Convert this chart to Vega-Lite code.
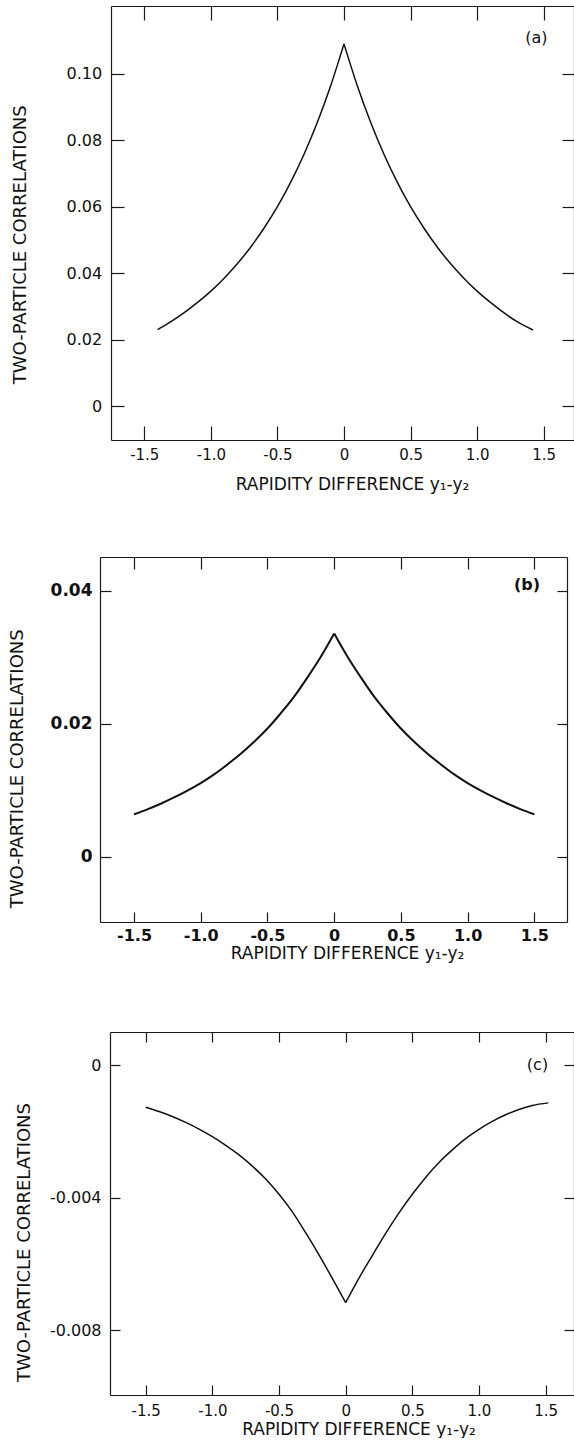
{
  "$schema": "https://vega.github.io/schema/vega-lite/v6.json",
  "background": "white",
  "padding": {"left": 8, "top": 5, "right": 0, "bottom": 0},
  "spacing": 63,
  "vconcat": [
    {
      "width": 474,
      "height": 434,
      "resolve": {"axis": {"x": "independent", "y": "independent"}},
      "layer": [
        {
          "data": {"values": [
            {"dy": -1.40, "corr": 0.0230, "side": "L"},
            {"dy": -1.30, "corr": 0.0254, "side": "L"},
            {"dy": -1.20, "corr": 0.0281, "side": "L"},
            {"dy": -1.10, "corr": 0.0312, "side": "L"},
            {"dy": -1.00, "corr": 0.0346, "side": "L"},
            {"dy": -0.90, "corr": 0.0385, "side": "L"},
            {"dy": -0.80, "corr": 0.0429, "side": "L"},
            {"dy": -0.70, "corr": 0.0479, "side": "L"},
            {"dy": -0.60, "corr": 0.0536, "side": "L"},
            {"dy": -0.50, "corr": 0.0600, "side": "L"},
            {"dy": -0.40, "corr": 0.0674, "side": "L"},
            {"dy": -0.30, "corr": 0.0758, "side": "L"},
            {"dy": -0.20, "corr": 0.0854, "side": "L"},
            {"dy": -0.10, "corr": 0.0964, "side": "L"},
            {"dy": 0.00, "corr": 0.1090, "side": "L"},
            {"dy": 0.00, "corr": 0.1090, "side": "R"},
            {"dy": 0.10, "corr": 0.0964, "side": "R"},
            {"dy": 0.20, "corr": 0.0854, "side": "R"},
            {"dy": 0.30, "corr": 0.0758, "side": "R"},
            {"dy": 0.40, "corr": 0.0674, "side": "R"},
            {"dy": 0.50, "corr": 0.0600, "side": "R"},
            {"dy": 0.60, "corr": 0.0536, "side": "R"},
            {"dy": 0.70, "corr": 0.0479, "side": "R"},
            {"dy": 0.80, "corr": 0.0429, "side": "R"},
            {"dy": 0.90, "corr": 0.0385, "side": "R"},
            {"dy": 1.00, "corr": 0.0346, "side": "R"},
            {"dy": 1.10, "corr": 0.0312, "side": "R"},
            {"dy": 1.20, "corr": 0.0281, "side": "R"},
            {"dy": 1.30, "corr": 0.0254, "side": "R"},
            {"dy": 1.42, "corr": 0.0229, "side": "R"}
          ]},
          "mark": {"type": "line", "color": "#111111", "strokeWidth": 1.5, "interpolate": "monotone"},
          "encoding": {
            "x": {
              "field": "dy", "type": "quantitative",
              "scale": {"domain": [-1.75, 1.7276], "range": [11, 474], "nice": false, "zero": false},
              "axis": {
                "orient": "bottom", "values": [-1.5, -1, -0.5, 0, 0.5, 1, 1.5],
                "tickSize": -14, "labelPadding": 21.1, "labelFontSize": 15,
                "labelExpr": "datum.value == 0 ? '0' : (datum.value < 0 ? '-' : '') + format(abs(datum.value), '.1f')",
                "title": "RAPIDITY DIFFERENCE y₁-y₂", "titleFontSize": 17,
                "titleX": 252, "titleY": 44.7, "titleBaseline": "middle", "titleAlign": "center"
              }
            },
            "y": {
              "field": "corr", "type": "quantitative",
              "scale": {"domain": [-0.0102, 0.1204], "nice": false, "zero": false},
              "axis": {
                "orient": "left", "offset": -11, "values": [0, 0.02, 0.04, 0.06, 0.08, 0.1],
                "tickSize": -13, "labelPadding": 22.3, "labelFontSize": 16,
                "labelExpr": "datum.value == 0 ? '0' : format(datum.value, '.2f')",
                "title": "TWO-PARTICLE CORRELATIONS", "titleFontSize": 18,
                "titleAngle": 270, "titleX": -91, "titleY": 238.3, "titleBaseline": "middle", "titleAlign": "center"
              }
            },
            "detail": {"field": "side", "type": "nominal"}
          }
        },
        {
          "data": {"values": [{"label": "(a)"}]},
          "mark": {"type": "text", "fontSize": 16, "color": "#111111", "align": "center", "baseline": "middle"},
          "encoding": {
            "x": {
              "datum": 1.445, "type": "quantitative",
              "scale": {"domain": [-1.75, 1.7276], "range": [11, 474], "nice": false, "zero": false},
              "axis": {"orient": "top", "values": [-1.5, -1, -0.5, 0, 0.5, 1, 1.5], "tickSize": -14, "labels": false, "title": null}
            },
            "y": {
              "datum": 0.1108, "type": "quantitative",
              "scale": {"domain": [-0.0102, 0.1204], "nice": false, "zero": false},
              "axis": {"orient": "right", "values": [0, 0.02, 0.04, 0.06, 0.08, 0.1], "tickSize": -12, "labels": false, "title": null}
            },
            "text": {"field": "label", "type": "nominal"}
          }
        }
      ]
    },
    {
      "spacing": 69,
      "vconcat": [
        {
          "width": 467,
          "height": 365,
          "resolve": {"axis": {"x": "independent", "y": "independent"}},
          "layer": [
            {
              "data": {"values": [
                {"dy": -1.5, "corr": 0.00641, "side": "L"},
                {"dy": -1.4, "corr": 0.00715, "side": "L"},
                {"dy": -1.3, "corr": 0.00799, "side": "L"},
                {"dy": -1.2, "corr": 0.00893, "side": "L"},
                {"dy": -1.1, "corr": 0.00997, "side": "L"},
                {"dy": -1.0, "corr": 0.0111, "side": "L"},
                {"dy": -0.9, "corr": 0.0124, "side": "L"},
                {"dy": -0.8, "corr": 0.0139, "side": "L"},
                {"dy": -0.7, "corr": 0.0155, "side": "L"},
                {"dy": -0.6, "corr": 0.0173, "side": "L"},
                {"dy": -0.5, "corr": 0.0193, "side": "L"},
                {"dy": -0.4, "corr": 0.0216, "side": "L"},
                {"dy": -0.3, "corr": 0.0241, "side": "L"},
                {"dy": -0.2, "corr": 0.0270, "side": "L"},
                {"dy": -0.1, "corr": 0.0301, "side": "L"},
                {"dy": 0.0, "corr": 0.0336, "side": "L"},
                {"dy": 0.0, "corr": 0.0336, "side": "R"},
                {"dy": 0.1, "corr": 0.0301, "side": "R"},
                {"dy": 0.2, "corr": 0.0270, "side": "R"},
                {"dy": 0.3, "corr": 0.0241, "side": "R"},
                {"dy": 0.4, "corr": 0.0216, "side": "R"},
                {"dy": 0.5, "corr": 0.0193, "side": "R"},
                {"dy": 0.6, "corr": 0.0173, "side": "R"},
                {"dy": 0.7, "corr": 0.0155, "side": "R"},
                {"dy": 0.8, "corr": 0.0139, "side": "R"},
                {"dy": 0.9, "corr": 0.0124, "side": "R"},
                {"dy": 1.0, "corr": 0.0111, "side": "R"},
                {"dy": 1.1, "corr": 0.00997, "side": "R"},
                {"dy": 1.2, "corr": 0.00893, "side": "R"},
                {"dy": 1.3, "corr": 0.00799, "side": "R"},
                {"dy": 1.4, "corr": 0.00715, "side": "R"},
                {"dy": 1.5, "corr": 0.00641, "side": "R"}
              ]},
              "mark": {"type": "line", "color": "#111111", "strokeWidth": 2, "interpolate": "monotone"},
              "encoding": {
                "x": {
                  "field": "dy", "type": "quantitative",
                  "scale": {"domain": [-1.755, 1.745], "nice": false, "zero": false},
                  "axis": {
                    "orient": "bottom", "values": [-1.5, -1, -0.5, 0, 0.5, 1, 1.5],
                    "tickSize": -10, "labelPadding": 15.7, "labelFontSize": 16, "labelFontWeight": "bold",
                    "labelExpr": "datum.value == 0 ? '0' : (datum.value < 0 ? '-' : '') + format(abs(datum.value), '.1f')",
                    "title": "RAPIDITY DIFFERENCE y₁-y₂", "titleFontSize": 17,
                    "titleX": 247, "titleY": 31.8, "titleBaseline": "middle", "titleAlign": "center"
                  }
                },
                "y": {
                  "field": "corr", "type": "quantitative",
                  "scale": {"domain": [-0.0098, 0.0451], "nice": false, "zero": false},
                  "axis": {
                    "orient": "left", "values": [0, 0.02, 0.04],
                    "tickSize": -11, "labelPadding": 19, "labelFontSize": 17, "labelFontWeight": "bold",
                    "labelExpr": "datum.value == 0 ? '0' : format(datum.value, '.2f')",
                    "title": "TWO-PARTICLE CORRELATIONS", "titleFontSize": 18,
                    "titleAngle": 270, "titleX": -83, "titleY": 211.3, "titleBaseline": "middle", "titleAlign": "center"
                  }
                },
                "detail": {"field": "side", "type": "nominal"}
              }
            },
            {
              "data": {"values": [{"label": "(b)"}]},
              "mark": {"type": "text", "fontSize": 16, "fontWeight": "bold", "color": "#111111", "align": "center", "baseline": "middle"},
              "encoding": {
                "x": {
                  "datum": 1.445, "type": "quantitative",
                  "scale": {"domain": [-1.755, 1.745], "nice": false, "zero": false},
                  "axis": {"orient": "top", "values": [-1.5, -1, -0.5, 0, 0.5, 1, 1.5], "tickSize": -12, "labels": false, "title": null}
                },
                "y": {
                  "datum": 0.0409, "type": "quantitative",
                  "scale": {"domain": [-0.0098, 0.0451], "nice": false, "zero": false},
                  "axis": {"orient": "right", "values": [0, 0.02, 0.04], "tickSize": -10, "labels": false, "title": null}
                },
                "text": {"field": "label", "type": "nominal"}
              }
            }
          ]
        },
        {
          "width": 474,
          "height": 363,
          "resolve": {"axis": {"x": "independent", "y": "independent"}},
          "layer": [
            {
              "data": {"values": [
                {"dy": -1.5, "corr": -0.00127, "side": "L"},
                {"dy": -1.4, "corr": -0.00140, "side": "L"},
                {"dy": -1.3, "corr": -0.00155, "side": "L"},
                {"dy": -1.2, "corr": -0.00173, "side": "L"},
                {"dy": -1.1, "corr": -0.00193, "side": "L"},
                {"dy": -1.0, "corr": -0.00216, "side": "L"},
                {"dy": -0.9, "corr": -0.00242, "side": "L"},
                {"dy": -0.8, "corr": -0.00271, "side": "L"},
                {"dy": -0.7, "corr": -0.00305, "side": "L"},
                {"dy": -0.6, "corr": -0.00344, "side": "L"},
                {"dy": -0.5, "corr": -0.00390, "side": "L"},
                {"dy": -0.4, "corr": -0.00443, "side": "L"},
                {"dy": -0.3, "corr": -0.00506, "side": "L"},
                {"dy": -0.2, "corr": -0.00573, "side": "L"},
                {"dy": -0.1, "corr": -0.00644, "side": "L"},
                {"dy": 0.0, "corr": -0.00717, "side": "L"},
                {"dy": 0.0, "corr": -0.00717, "side": "R"},
                {"dy": 0.1, "corr": -0.00643, "side": "R"},
                {"dy": 0.2, "corr": -0.00575, "side": "R"},
                {"dy": 0.3, "corr": -0.00508, "side": "R"},
                {"dy": 0.4, "corr": -0.00446, "side": "R"},
                {"dy": 0.5, "corr": -0.00390, "side": "R"},
                {"dy": 0.6, "corr": -0.00339, "side": "R"},
                {"dy": 0.7, "corr": -0.00294, "side": "R"},
                {"dy": 0.8, "corr": -0.00256, "side": "R"},
                {"dy": 0.9, "corr": -0.00222, "side": "R"},
                {"dy": 1.0, "corr": -0.00194, "side": "R"},
                {"dy": 1.1, "corr": -0.00170, "side": "R"},
                {"dy": 1.2, "corr": -0.00150, "side": "R"},
                {"dy": 1.3, "corr": -0.00134, "side": "R"},
                {"dy": 1.4, "corr": -0.00122, "side": "R"},
                {"dy": 1.52, "corr": -0.00114, "side": "R"}
              ]},
              "mark": {"type": "line", "color": "#111111", "strokeWidth": 1.5, "interpolate": "monotone"},
              "encoding": {
                "x": {
                  "field": "dy", "type": "quantitative",
                  "scale": {"domain": [-1.768, 1.713], "range": [10, 474], "nice": false, "zero": false},
                  "axis": {
                    "orient": "bottom", "values": [-1.5, -1, -0.5, 0, 0.5, 1, 1.5],
                    "tickSize": -10, "labelPadding": 18, "labelFontSize": 15,
                    "labelExpr": "datum.value == 0 ? '0' : (datum.value < 0 ? '-' : '') + format(abs(datum.value), '.1f')",
                    "title": "RAPIDITY DIFFERENCE y₁-y₂", "titleFontSize": 17,
                    "titleX": 258.5, "titleY": 34.8, "titleBaseline": "middle", "titleAlign": "center"
                  }
                },
                "y": {
                  "field": "corr", "type": "quantitative",
                  "scale": {"domain": [-0.00996, 0.001], "nice": false, "zero": false},
                  "axis": {
                    "orient": "left", "offset": -10, "values": [0, -0.004, -0.008],
                    "tickSize": -10, "labelPadding": 19, "labelFontSize": 16,
                    "labelExpr": "datum.value == 0 ? '0' : '-' + format(abs(datum.value), '.3f')",
                    "title": "TWO-PARTICLE CORRELATIONS", "titleFontSize": 18,
                    "titleAngle": 270, "titleX": -85.2, "titleY": 210, "titleBaseline": "middle", "titleAlign": "center"
                  }
                },
                "detail": {"field": "side", "type": "nominal"}
              }
            },
            {
              "data": {"values": [{"label": "(c)"}]},
              "mark": {"type": "text", "fontSize": 16, "color": "#111111", "align": "center", "baseline": "middle"},
              "encoding": {
                "x": {
                  "datum": 1.439, "type": "quantitative",
                  "scale": {"domain": [-1.768, 1.713], "range": [10, 474], "nice": false, "zero": false},
                  "axis": {"orient": "top", "values": [-1.5, -1, -0.5, 0, 0.5, 1, 1.5], "tickSize": -10, "labels": false, "title": null}
                },
                "y": {
                  "datum": 0, "type": "quantitative",
                  "scale": {"domain": [-0.00996, 0.001], "nice": false, "zero": false},
                  "axis": {"orient": "right", "values": [0, -0.004, -0.008], "tickSize": -10, "labels": false, "title": null}
                },
                "text": {"field": "label", "type": "nominal"}
              }
            }
          ]
        }
      ]
    }
  ],
  "config": {
    "view": {"stroke": null},
    "font": "DejaVu Sans",
    "text": {"font": "DejaVu Sans"},
    "axis": {
      "grid": false,
      "domainColor": "#1a1a1a",
      "domainWidth": 1.2,
      "tickColor": "#1a1a1a",
      "tickWidth": 1.2,
      "labelColor": "#111111",
      "titleColor": "#111111",
      "labelFont": "DejaVu Sans",
      "titleFont": "DejaVu Sans",
      "titleFontWeight": "normal",
      "labelFlush": false
    }
  }
}
